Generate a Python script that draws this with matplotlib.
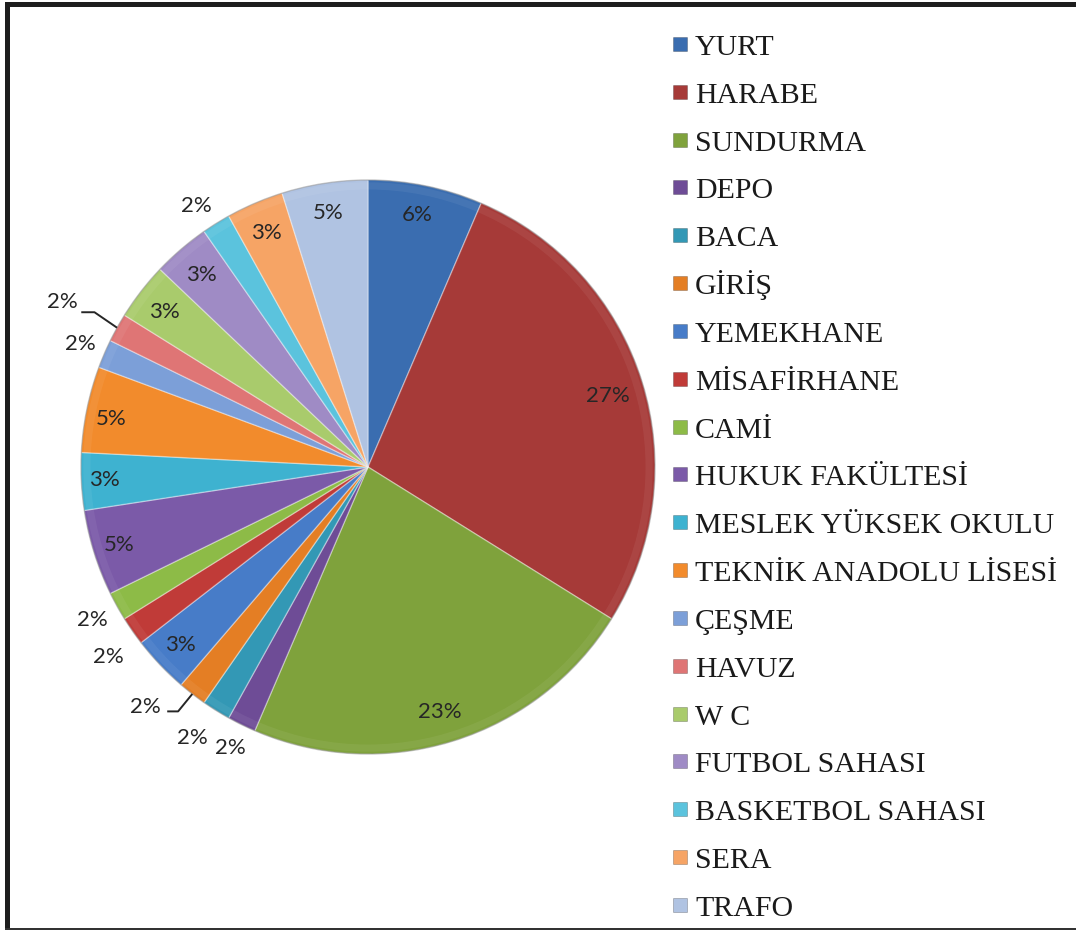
import numpy as np
import matplotlib
matplotlib.use("Agg")
import matplotlib.pyplot as plt
from matplotlib.patches import Rectangle, Wedge

# ---- data ----
categories = ["YURT", "HARABE", "SUNDURMA", "DEPO", "BACA", "GİRİŞ", "YEMEKHANE",
              "MİSAFİRHANE", "CAMİ", "HUKUK FAKÜLTESİ", "MESLEK YÜKSEK OKULU",
              "TEKNİK ANADOLU LİSESİ", "ÇEŞME", "HAVUZ", "W C", "FUTBOL SAHASI",
              "BASKETBOL SAHASI", "SERA", "TRAFO"]
counts = [4, 17, 14, 1, 1, 1, 2, 1, 1, 3, 2, 3, 1, 1, 2, 2, 1, 2, 3]

colors = ["#3A6DB0", "#A63A38", "#7FA23C", "#6E4C96", "#3398B5", "#E47E24",
          "#477CC8", "#C03B38", "#8DBB47", "#7B5AA8", "#3EB2D0", "#F28B2C",
          "#7C9FD8", "#DF7575", "#A9CB6C", "#9F8BC5", "#5BC3DD", "#F6A465",
          "#B0C3E2"]

# label placement (layout): radius factor and angular nudge in degrees
label_r = [0.895, 0.87, 0.89, 1.09, 1.125, 1.14, 0.90, 1.12, 1.10, 0.91, 0.92,
           0.91, 1.09, 1.21, 0.89, 0.886, 1.09, 0.89, 0.896]
label_dang = [-0.5, 1, 1, 0, 1, 5.2, 0, -1.4, 0, 0, 0, -1, 0, -0.7, -0.5, -0.4,
              -1.4, -0.3, -0.3]

W, H = 1076, 930
fig = plt.figure(figsize=(W / 100, H / 100), dpi=100)
fig.patch.set_facecolor("white")

def fx(px):
    return px / W

def fy(py):
    return 1 - py / H

# pie axes: center (368,467) px, radius 287 px, limits +-1.25
cx, cy, R = 368, 467, 287
half = 1.25 * R
ax = fig.add_axes([fx(cx - half), fy(cy + half), 2 * half / W, 2 * half / H])

wedges, texts, autotexts = ax.pie(
    counts, colors=colors, startangle=90, counterclock=False,
    autopct=lambda p: f"{p:.0f}%", pctdistance=0.89,
    wedgeprops=dict(edgecolor=(1, 1, 1, 0.35), linewidth=1.0),
    textprops=dict(family="Lato", fontsize=16, color="#262626"))
ax.set_xlim(-1.25, 1.25)
ax.set_ylim(-1.25, 1.25)
ax.axis("off")

# subtle bevel highlight near the rim
ax.add_patch(Wedge((0, 0), 0.992, 0, 360, width=0.025,
                   facecolor=(1, 1, 1, 0.06), lw=0, zorder=2))
ax.add_patch(plt.Circle((0, 0), 1.0, fill=False, ec=(0.25, 0.25, 0.25, 0.3),
                        lw=1.0, zorder=3))

# reposition labels
total = sum(counts)
cum = np.cumsum([0] + counts[:-1])
mids = []
for i, t in enumerate(autotexts):
    mid = (cum[i] + counts[i] / 2) / total * 360.0  # clockwise from top
    mids.append(mid)
    a = np.deg2rad(90 - (mid + label_dang[i]))
    t.set_position((label_r[i] * np.cos(a), label_r[i] * np.sin(a)))
    t.set_zorder(5)

# leader lines for GİRİŞ and HAVUZ
def leader(i, elbow_off, end_off):
    a = np.deg2rad(90 - mids[i])
    rim = (np.cos(a), np.sin(a))
    tx, ty = autotexts[i].get_position()
    xs = [rim[0], tx + elbow_off[0], tx + end_off[0]]
    ys = [rim[1], ty + elbow_off[1], ty + end_off[1]]
    ax.plot(xs, ys, color="#262626", lw=1.4, solid_capstyle="butt", zorder=4)

leader(categories.index("GİRİŞ"), (0.115, -0.017), (0.077, -0.017))
leader(categories.index("HAVUZ"), (0.112, -0.035), (0.066, -0.035))

# ---- legend (manual) ----
row0 = 55.0
pitch = 47.83
for i, (name, col) in enumerate(zip(categories, colors)):
    base = row0 + i * pitch
    fig.add_artist(Rectangle((fx(673), fy(base - 4)), 14 / W, 14 / H,
                             transform=fig.transFigure, facecolor=col,
                             edgecolor=(0, 0, 0, 0.25), lw=0.6))
    fig.text(fx(695), fy(base), name, family="Liberation Serif", fontsize=21.5,
             color="#1a1a1a", ha="left", va="baseline")

# ---- frame border ----
fig.add_artist(Rectangle((fx(5), fy(7)), 1 - fx(5), 5 / H,
                         transform=fig.transFigure, facecolor="#1e1e1e", lw=0))
fig.add_artist(Rectangle((fx(5), 0), 5 / W, fy(2),
                         transform=fig.transFigure, facecolor="#1e1e1e", lw=0))
fig.add_artist(Rectangle((fx(5), 0), 1 - fx(5), 2 / H,
                         transform=fig.transFigure, facecolor="#333333", lw=0))

fig.savefig("out.png", dpi=100, facecolor="white")
